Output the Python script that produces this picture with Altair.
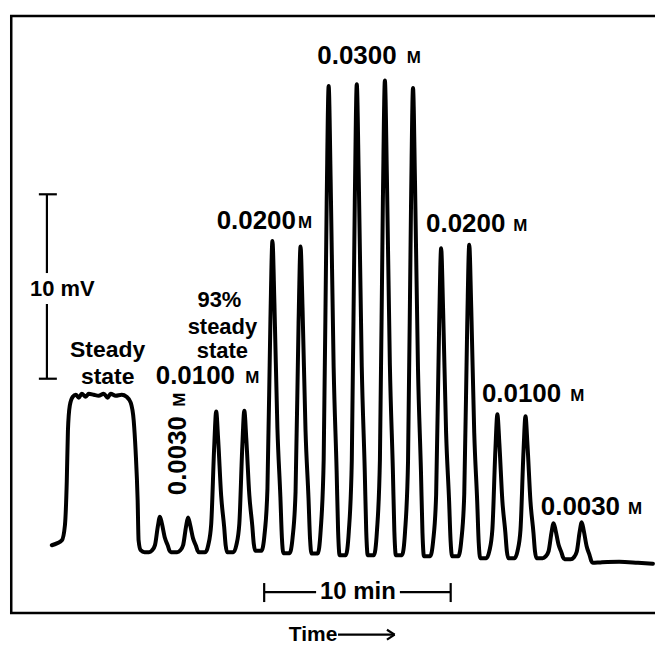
import altair as alt
import pandas as pd

# ---- trace (time in min, signal in mV, baseline = 0) ----
# steady-state plateau
ss_t = [2.23, 2.50, 2.77, 2.93, 3.03, 3.09, 3.19, 3.35, 3.51, 3.67, 3.83, 4.04, 4.20,
        4.47, 4.73, 5.00, 5.21, 5.37, 5.64, 5.96, 6.22, 6.44, 6.60, 6.70, 6.81, 6.86,
        6.97, 7.18]
ss_mv = [0.0, 0.1, 0.27, 1.08, 3.5, 6.2, 7.57, 8.05, 8.16, 8.0, 8.22, 8.05, 8.22,
         8.16, 8.11, 8.22, 8.0, 8.22, 8.11, 8.16, 8.05, 7.73, 6.76, 5.14, 2.43, 0.27,
         -0.27, -0.38]

# injection peaks
peak_t = [8.0, 9.5, 11.0, 12.5, 14.0, 15.5, 17.0, 18.5, 20.0, 21.5, 23.0, 24.5,
          26.0, 27.5, 29.0, 30.5]
peak_top_mv = [1.55, 1.5, 7.25, 7.3, 16.5, 16.2, 24.9, 25.0, 25.2, 24.8, 16.1, 16.3,
               7.1, 7.0, 1.2, 1.25]
valley_mv = [-0.38, -0.38, -0.38, -0.38, -0.3, -0.43, -0.45, -0.54, -0.54, -0.54,
             -0.6, -0.6, -0.7, -0.7, -0.7, -0.76, -0.95]
# peak outline read from one recorded peak (offset in min, fraction of peak height)
profile_dt = [-0.585, -0.425, -0.266, -0.106, 0.0, 0.106, 0.266, 0.425, 0.505, 0.585]
profile_frac = [0.0, 0.05, 0.2, 0.75, 1.0, 0.8, 0.4, 0.18, 0.05, 0.0]

# final baseline
tail_t = [31.5, 32.5, 33.5, 34.3]
tail_mv = [-0.93, -0.9, -0.95, -1.0]

rows = [(t, v) for t, v in zip(ss_t, ss_mv)]
for i, (c, top) in enumerate(zip(peak_t, peak_top_mv)):
    left, right = valley_mv[i], valley_mv[i + 1]
    for dt, f in zip(profile_dt, profile_frac):
        base = left if dt < 0 else right
        rows.append((c + dt, base + f * (top - base)))
rows += [(t, v) for t, v in zip(tail_t, tail_mv)]
trace = pd.DataFrame(rows, columns=["t", "mv"])
trace["i"] = range(len(trace))

# ---- labels ----
label_text = ["10 mV", "Steady", "state", "93%", "steady", "state",
              "0.0100", "M", "0.0030", "M",
              "0.0200", "M", "0.0300", "M", "0.0200", "M",
              "0.0100", "M", "0.0030", "M", "10 min", "Time"]
label_t = [2.79, 5.21, 5.21, 11.17, 11.33, 11.33,
           9.89, 12.93, 8.99, 9.07,
           13.14, 15.74, 18.51, 21.54, 24.31, 27.23,
           27.29, 30.27, 30.43, 33.35, 18.56, 16.17]
label_mv = [13.9, 10.6, 9.14, 13.3, 11.84, 10.54,
            9.19, 9.08, 4.86, 7.89,
            17.57, 17.46, 26.54, 26.43, 17.41, 17.3,
            8.22, 8.11, 2.05, 1.95, -2.54, -4.85]
label_size = [22, 23, 23, 22, 22, 22,
              26, 17, 26, 17,
              26, 17, 26, 17, 26, 17,
              26, 17, 26, 17, 24, 21]
label_angle = [0, 0, 0, 0, 0, 0,
               0, 0, 270, 270,
               0, 0, 0, 0, 0, 0,
               0, 0, 0, 0, 0, 0]
labels = pd.DataFrame({"text": label_text, "t": label_t, "mv": label_mv,
                       "size": label_size, "angle": label_angle})

# ---- scale bars (10 mV, 10 min) and Time arrow ----
bar_x = [1.97, 1.97, 1.54, 1.54, 13.56, 20.8, 13.56, 23.51, 17.5, 20.11, 20.11]
bar_x2 = [1.97, 1.97, 2.5, 2.5, 16.33, 23.51, 13.56, 23.51, 20.52, 20.52, 20.52]
bar_y = [9.03, 14.76, 9.03, 19.03, -2.54, -2.54, -2.05, -2.05, -4.85, -4.58, -5.12]
bar_y2 = [13.08, 19.03, 9.03, 19.03, -2.54, -2.54, -3.08, -3.08, -4.85, -4.85, -4.85]
bars = pd.DataFrame({"x": bar_x, "x2": bar_x2, "y": bar_y, "y2": bar_y2})

W, H = 647, 599
xs = alt.Scale(domain=[0, 34.41], nice=False, zero=False)
ys = alt.Scale(domain=[-3.68, 28.7], nice=False, zero=False)

line = alt.Chart(trace).mark_line(
    color="black", strokeWidth=4, interpolate="monotone", strokeJoin="round", strokeCap="round"
).encode(
    x=alt.X("t:Q", scale=xs, axis=None),
    y=alt.Y("mv:Q", scale=ys, axis=None),
    order="i:Q",
)

text = alt.Chart(labels).mark_text(
    font="Liberation Sans", fontWeight="bold", color="black", align="center", baseline="middle"
).encode(
    x=alt.X("t:Q", scale=xs, axis=None),
    y=alt.Y("mv:Q", scale=ys, axis=None),
    text="text:N",
    size=alt.Size("size:Q", scale=None, legend=None),
    angle=alt.Angle("angle:Q", scale=None),
)

rules = alt.Chart(bars).mark_rule(color="black", strokeWidth=2.2).encode(
    x=alt.X("x:Q", scale=xs, axis=None),
    x2="x2:Q",
    y=alt.Y("y:Q", scale=ys, axis=None),
    y2="y2:Q",
)

dummy = pd.DataFrame({"a": [0]})
frame_top = alt.Chart(dummy).mark_rule(color="black", strokeWidth=2.5).encode(
    x=alt.value(0), x2=alt.value(W), y=alt.value(0))
frame_left = alt.Chart(dummy).mark_rule(color="black", strokeWidth=2.5).encode(
    x=alt.value(1.25), y=alt.value(0), y2=alt.value(H))
frame_bottom = alt.Chart(dummy).mark_rule(color="black", strokeWidth=2.5).encode(
    x=alt.value(0), x2=alt.value(W), y=alt.value(H))

chart = alt.layer(frame_top, frame_left, frame_bottom, line, rules, text).properties(
    width=W, height=H,
    padding={"left": 0, "top": 5, "right": 0, "bottom": 0},
    background="white",
).configure_view(stroke=None)

chart.save("out.html", embed_options={"renderer": "svg", "actions": False})
